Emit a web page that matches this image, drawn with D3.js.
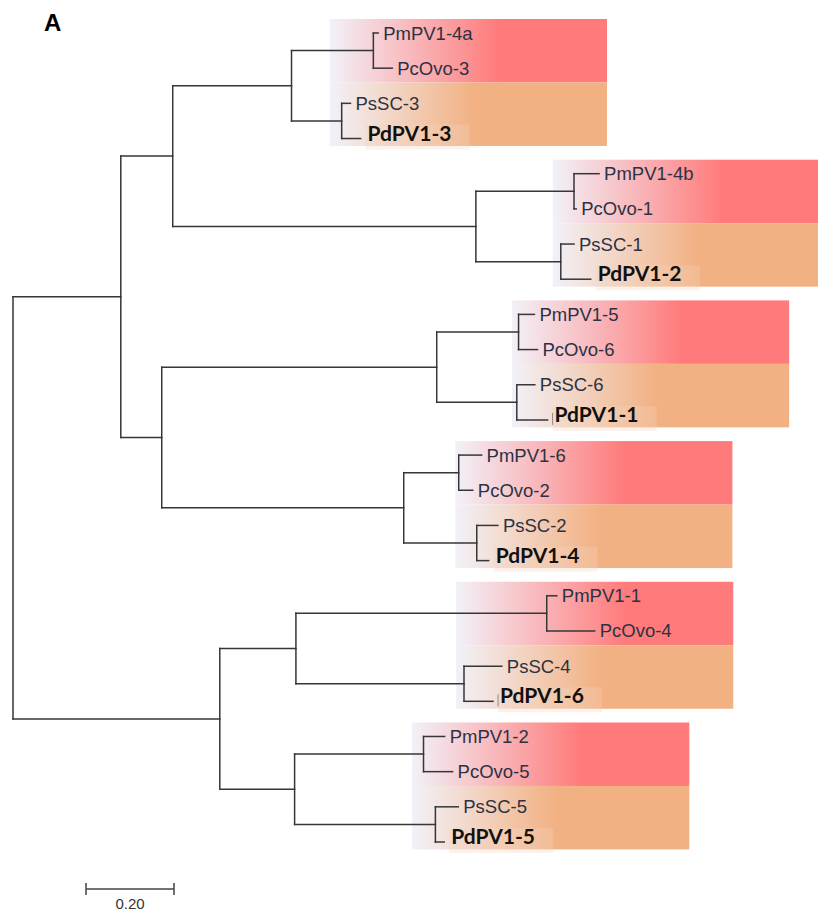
<!DOCTYPE html>
<html>
<head>
<meta charset="utf-8">
<script src="https://cdn.jsdelivr.net/npm/d3@7"></script>
<style>
  body { margin: 0; background: #fff; }
  svg { display: block; }
</style>
</head>
<body>
<svg id="chart" width="818" height="911"></svg>
<script>
// Tree topology: node id, parent id and branch length (substitutions per site)
const nodeIds = [
  "root", "A", "B", "N1", "N1a", "PmPV1-4a", "PcOvo-3", "N1b", "PsSC-3", "PdPV1-3",
  "N2", "N2a", "PmPV1-4b", "PcOvo-1", "N2b", "PsSC-1", "PdPV1-2",
  "C", "N3", "N3a", "PmPV1-5", "PcOvo-6", "N3b", "PsSC-6", "PdPV1-1",
  "N4", "N4a", "PmPV1-6", "PcOvo-2", "N4b", "PsSC-2", "PdPV1-4",
  "D", "N5", "N5a", "PmPV1-1", "PcOvo-4", "N5b", "PsSC-4", "PdPV1-6",
  "N6", "N6a", "PmPV1-2", "PcOvo-5", "N6b", "PsSC-5", "PdPV1-5"
];
const parentIds = [
  "", "root", "A", "B", "N1", "N1a", "N1a", "N1", "N1b", "N1b",
  "B", "N2", "N2a", "N2a", "N2", "N2b", "N2b",
  "A", "C", "N3", "N3a", "N3a", "N3", "N3b", "N3b",
  "C", "N4", "N4a", "N4a", "N4", "N4b", "N4b",
  "root", "D", "N5", "N5a", "N5a", "N5", "N5b", "N5b",
  "D", "N6", "N6a", "N6a", "N6", "N6b", "N6b"
];
const branchLengths = [
  0, 0.245, 0.118, 0.270, 0.186, 0.011, 0.043, 0.114, 0.020, 0.043,
  0.689, 0.223, 0.057, 0.005, 0.193, 0.030, 0.068,
  0.093, 0.625, 0.186, 0.036, 0.043, 0.182, 0.041, 0.070,
  0.550, 0.125, 0.052, 0.032, 0.166, 0.048, 0.027,
  0.470, 0.173, 0.570, 0.023, 0.109, 0.382, 0.086, 0.066,
  0.170, 0.293, 0.048, 0.066, 0.320, 0.052, 0.020
];

// Leaves shown in bold (Pinctada PV1 sequences)
const boldLeaves = ["PdPV1-3", "PdPV1-2", "PdPV1-1", "PdPV1-4", "PdPV1-6", "PdPV1-5"];
// Leaves preceded by a thin cursor mark
const markedLeaves = ["PdPV1-1", "PdPV1-6"];

// Highlighted clades: first leaf of each 4-leaf clade and where its band starts (tree distance)
const cladeFirstLeaf = ["PmPV1-4a", "PmPV1-4b", "PmPV1-5", "PmPV1-6", "PmPV1-1", "PmPV1-2"];
const cladeBoxStart = [0.720, 1.227, 1.134, 1.005, 1.007, 0.907];
const cladeBoxWidth = 0.630;

const scaleBarLength = 0.20;
const scaleBarLabel = "0.20";
const panelLabel = "A";

const svg = d3.select("#chart");
const x = d3.scaleLinear().domain([0, 1]).range([13, 453]);

const rows = nodeIds.map((id, i) => ({ id, parent: parentIds[i] || null, len: branchLengths[i] }));
const root = d3.stratify().id(d => d.id).parentId(d => d.parent)(rows);
root.eachBefore(n => { n.dist = n.parent ? n.parent.dist + n.data.len : 0; });

const leaves = root.leaves();
const y = d3.scalePoint().domain(leaves.map(d => d.id)).range([33, 842]);
root.eachAfter(n => {
  n.py = n.children
    ? (n.children[0].py + n.children[n.children.length - 1].py) / 2
    : y(n.id);
});

// Gradients for the clade bands
const defs = svg.append("defs");
function grad(id, stops) {
  const g = defs.append("linearGradient").attr("id", id)
    .attr("x1", 0).attr("x2", 1).attr("y1", 0).attr("y2", 0);
  stops.forEach(([o, c]) => g.append("stop").attr("offset", o).attr("stop-color", c));
}
grad("gRed", [[0, "#f2f1f8"], [0.61, "#ff7b7b"], [1, "#ff7b7b"]]);
grad("gOrange", [[0, "#f2f1f8"], [0.52, "#f2b183"], [1, "#f2b183"]]);

const step = y.step();
const bandHalf = step * 1.805;
const bands = svg.append("g");
cladeFirstLeaf.forEach((leaf, i) => {
  const top = y(leaf) - 14;
  const x0 = x(cladeBoxStart[i]);
  const w = x(cladeBoxStart[i] + cladeBoxWidth) - x0;
  bands.append("rect").attr("x", x0).attr("y", top).attr("width", w).attr("height", bandHalf)
    .attr("fill", "url(#gRed)");
  bands.append("rect").attr("x", x0).attr("y", top + bandHalf).attr("width", w).attr("height", bandHalf)
    .attr("fill", "url(#gOrange)");
});

// Branches
const lines = svg.append("g")
  .attr("stroke", "#363636").attr("stroke-width", 1.5).attr("fill", "none")
  .attr("stroke-linecap", "square");
root.descendants().forEach(n => {
  if (n.parent) {
    lines.append("line")
      .attr("x1", x(n.parent.dist)).attr("x2", x(n.dist))
      .attr("y1", n.py).attr("y2", n.py);
  }
  if (n.children) {
    lines.append("line")
      .attr("x1", x(n.dist)).attr("x2", x(n.dist))
      .attr("y1", n.children[0].py).attr("y2", n.children[n.children.length - 1].py);
  }
});

// Leaf labels
const labels = svg.append("g");
leaves.forEach(n => {
  const bold = boldLeaves.includes(n.id);
  const lx = x(n.dist) + (bold ? 7 : 5);
  if (bold) {
    labels.append("rect")
      .attr("x", lx - 2).attr("y", n.py - 14).attr("width", 104).attr("height", 25)
      .attr("fill", "#f3d4bd").attr("opacity", 0.3);
  }
  if (markedLeaves.includes(n.id)) {
    labels.append("line")
      .attr("x1", lx - 2).attr("x2", lx - 2)
      .attr("y1", n.py - 7).attr("y2", n.py + 5)
      .attr("stroke", "#8a8a8a").attr("stroke-width", 1);
  }
  labels.append("text")
    .attr("x", lx)
    .attr("y", n.py + (bold ? 2 : 6.5))
    .attr("font-family", bold ? "Lato, 'Open Sans', sans-serif" : "'Liberation Sans', Arial, sans-serif")
    .attr("font-weight", bold ? 700 : 400)
    .attr("font-size", bold ? 21 : 18.5)
    .attr("fill", bold ? "#111" : "#2c3244")
    .text(n.id);
});

// Scale bar
const sb = svg.append("g").attr("stroke", "#444").attr("stroke-width", 1.5);
const sbX0 = 86, sbY = 889;
const sbLen = x(scaleBarLength) - x(0);
sb.append("line").attr("x1", sbX0).attr("x2", sbX0 + sbLen).attr("y1", sbY).attr("y2", sbY);
sb.append("line").attr("x1", sbX0).attr("x2", sbX0).attr("y1", sbY - 6).attr("y2", sbY + 6);
sb.append("line").attr("x1", sbX0 + sbLen).attr("x2", sbX0 + sbLen).attr("y1", sbY - 6).attr("y2", sbY + 6);
svg.append("text")
  .attr("x", sbX0 + sbLen / 2).attr("y", sbY + 20)
  .attr("text-anchor", "middle")
  .attr("font-family", "'Liberation Sans', Arial, sans-serif")
  .attr("font-size", 15).attr("fill", "#333")
  .text(scaleBarLabel);

// Panel letter
svg.append("text")
  .attr("x", 44).attr("y", 31)
  .attr("font-family", "'Liberation Sans', Arial, sans-serif")
  .attr("font-weight", 700).attr("font-size", 24).attr("fill", "#000")
  .text(panelLabel);
</script>
</body>
</html>
